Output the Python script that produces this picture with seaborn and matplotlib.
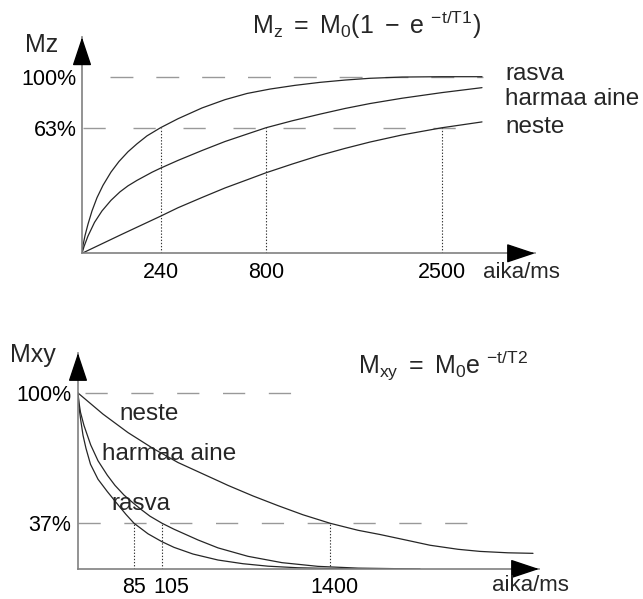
import matplotlib
matplotlib.use("Agg")
import matplotlib.pyplot as plt
import seaborn as sns
from matplotlib.transforms import ScaledTranslation

# ---------------- data (schematic units) ----------------
# top panel: x = schematic time position, y = % of M0
t1_x_rasva = [0, 1, 3, 6, 10, 15, 21, 29, 37, 46, 55, 65, 78.5, 96, 120, 143, 165, 188, 213, 238, 263, 288, 320, 360, 400]
t1_y_rasva = [0, 4.5, 10, 16.5, 24, 31.5, 38.5, 46, 52, 57.5, 62, 66.5, 71.1, 76.2, 82.3, 87, 90.5, 93, 95.1, 96.8, 98.1, 99.1, 99.8, 100, 100]
t1_x_harmaa = [0, 2, 6, 12.5, 20, 29, 38, 46, 55, 62.5, 70, 78.5, 96, 120, 143, 165, 184, 210, 238, 263, 288, 320, 360, 400]
t1_y_harmaa = [0, 3.8, 9.8, 17.5, 24, 30, 34.8, 38.2, 41.3, 43.6, 45.9, 48.2, 52.6, 58.2, 63.3, 67.5, 71.1, 75, 78.8, 82, 84.8, 87.8, 91, 93.8]
t1_x_neste = [0, 20, 40, 60, 78.5, 96, 120, 143, 165, 184, 210, 238, 263, 288, 320, 360, 400]
t1_y_neste = [0, 5.4, 10.8, 16.1, 21, 25.8, 31.6, 37, 41.6, 45.6, 50.5, 55.5, 59.4, 63, 67, 71.1, 74.4]

t1_marks = [78.5, 184, 360]          # positions of T1 values
t1_labels = ["240", "800", "2500"]
t1_level = 71.1                      # "63%" line (schematic)
top_ytick_pos = [100, t1_level]
top_ytick_lab = ["100%", "63%"]

# bottom panel
t2_x_rasva = [0, 1, 2.5, 5, 8, 12.5, 20, 29.3, 40, 48, 56, 70, 84, 96, 115, 140, 165, 190, 220, 260, 300]
t2_y_rasva = [100, 92, 85.5, 76, 68.5, 59.5, 51, 44, 36.5, 31, 26, 20, 15.5, 12.3, 8.5, 5.1, 3, 1.6, 0.7, 0.2, 0]
t2_x_harmaa = [0, 1, 2.5, 6, 12.7, 20, 29.3, 37, 46, 55, 62.7, 72, 84, 96, 120, 140, 170, 204, 240, 280, 342]
t2_y_harmaa = [100, 94.5, 89, 81.5, 70.5, 61.5, 53.3, 47.5, 42, 37.6, 34, 30, 26, 22.6, 16.5, 12, 7.2, 3.6, 1.5, 0.5, 0]
t2_x_neste = [0, 25, 50, 75, 100, 125, 142, 150, 175, 200, 225, 252, 280, 302, 330, 352, 380, 402, 430, 455]
t2_y_neste = [100, 88, 77.5, 68.5, 60.5, 54, 49.6, 47.5, 41.5, 36, 30.8, 26, 22, 19.6, 16.2, 13.5, 11.2, 10, 9.2, 8.9]

t2_marks = [56, 84, 252]
t2_labels = ["85", "105", "1400"]
t2_level = 26                        # "37%" line (schematic)
bot_ytick_pos = [100, t2_level]
bot_ytick_lab = ["100%", "37%"]

# ---------------- style ----------------
sns.set_style("white")
plt.rcParams["font.family"] = ["Liberation Sans", "DejaVu Sans"]
plt.rcParams["mathtext.fontset"] = "custom"
plt.rcParams["mathtext.rm"] = "Liberation Sans"
plt.rcParams["mathtext.it"] = "Liberation Sans"
plt.rcParams["mathtext.bf"] = "Liberation Sans"

CURVE = "#262626"
DASH = "#999999"
AXC = "#808080"

fig = plt.figure(figsize=(6.43, 5.99), dpi=100)
W, H = 643, 599

ax1 = fig.add_axes([82 / W, (H - 253.3) / H, 453 / W, 216 / H])
ax2 = fig.add_axes([78 / W, (H - 569) / H, 461 / W, 216 / H])
ax1.set_xlim(0, 453); ax1.set_ylim(0, 216 / 1.766)
ax2.set_xlim(0, 461); ax2.set_ylim(0, 216 / 1.76)


def frame(ax):
    for s in ["top", "right"]:
        ax.spines[s].set_visible(False)
    for s in ["left", "bottom"]:
        ax.spines[s].set_color(AXC)
        ax.spines[s].set_linewidth(1.2)
    ax.patch.set_alpha(0)
    ax.tick_params(length=0, labelsize=15.5, colors="black")
    ax.set_xlabel(""); ax.set_ylabel("")
    arrow = dict(arrowstyle="-|>,head_length=0.9,head_width=0.3", color="black",
                 lw=1.0, shrinkA=0, shrinkB=0, mutation_scale=20)
    ax.annotate("", xy=(1, 0), xycoords="axes fraction", xytext=(0.955, 0),
                arrowprops=arrow, annotation_clip=False)
    ax.annotate("", xy=(0, 1), xycoords="axes fraction", xytext=(0, 0.9),
                arrowprops=arrow, annotation_clip=False)


def curve(ax, x, y):
    sns.lineplot(x=x, y=y, ax=ax, color=CURVE, lw=0.9, sort=False, estimator=None,
                 legend=False)


# ---------------- top panel ----------------
frame(ax1)
ax1.hlines(100, 28, 401, colors=DASH, lw=1.0, linestyles=(0, (16.5, 16.5)))
ax1.hlines(t1_level, 1.3, 401, colors=DASH, lw=1.0, linestyles=(0, (16, 20)))
ax1.vlines(t1_marks, 0, t1_level, colors="#333333", lw=0.8, linestyles=(0, (1.2, 1.6)))
curve(ax1, t1_x_rasva, t1_y_rasva)
curve(ax1, t1_x_harmaa, t1_y_harmaa)
curve(ax1, t1_x_neste, t1_y_neste)
ax1.set_xticks(t1_marks, t1_labels)
ax1.set_yticks(top_ytick_pos, top_ytick_lab)
ax1.tick_params(axis="x", pad=6)
ax1.tick_params(axis="y", pad=4)

ax1.text(-57, 114, "Mz", fontsize=18, ha="left", va="baseline", clip_on=False)
ax1.text(169.7, 124.2, r"$\mathrm{M_z\ =\ M_0(1\ -\ e\ ^{-t/T1})}$", fontsize=18,
         ha="left", va="baseline", clip_on=False)
ax1.text(423, 98.1, "rasva", fontsize=17.5, ha="left", va="baseline", clip_on=False)
ax1.text(423, 84, "harmaa aine", fontsize=17.5, ha="left", va="baseline", clip_on=False)
ax1.text(423, 68.1, "neste", fontsize=17.5, ha="left", va="baseline", clip_on=False)
ax1.text(401.5, -14, "aika/ms", fontsize=16, ha="left", va="baseline", clip_on=False)

# ---------------- bottom panel ----------------
frame(ax2)
ax2.hlines(100, 7, 218, colors=DASH, lw=1.0, linestyles=(0, (16, 17)))
ax2.hlines(t2_level, 0, 389, colors=DASH, lw=1.0, linestyles=(0, (16, 17)))
ax2.vlines(t2_marks, 0, t2_level, colors="#333333", lw=0.8, linestyles=(0, (1.2, 1.6)))
curve(ax2, t2_x_rasva, t2_y_rasva)
curve(ax2, t2_x_harmaa, t2_y_harmaa)
curve(ax2, t2_x_neste, t2_y_neste)
ax2.set_xticks(t2_marks, t2_labels)
ax2.set_yticks(bot_ytick_pos, bot_ytick_lab)
ax2.tick_params(axis="x", pad=5.5)
ax2.tick_params(axis="y", pad=5)
xl = ax2.get_xticklabels()
xl[1].set_transform(xl[1].get_transform() + ScaledTranslation(9 / 100, 0, fig.dpi_scale_trans))
xl[2].set_transform(xl[2].get_transform() + ScaledTranslation(4 / 100, 0, fig.dpi_scale_trans))

ax2.text(-68, 117.6, "Mxy", fontsize=18, ha="left", va="baseline", clip_on=False)
ax2.text(280, 111.4, r"$\mathrm{M_{xy}\ =\ M_0e\ ^{-t/T2}}$", fontsize=18,
         ha="left", va="baseline", clip_on=False)
ax2.text(41, 84.7, "neste", fontsize=17.5, ha="left", va="baseline")
ax2.text(24, 61.9, "harmaa aine", fontsize=17.5, ha="left", va="baseline")
ax2.text(33, 33.5, "rasva", fontsize=17.5, ha="left", va="baseline")
ax2.text(414, -12.5, "aika/ms", fontsize=16, ha="left", va="baseline", clip_on=False)

fig.savefig("out.png", dpi=100)
